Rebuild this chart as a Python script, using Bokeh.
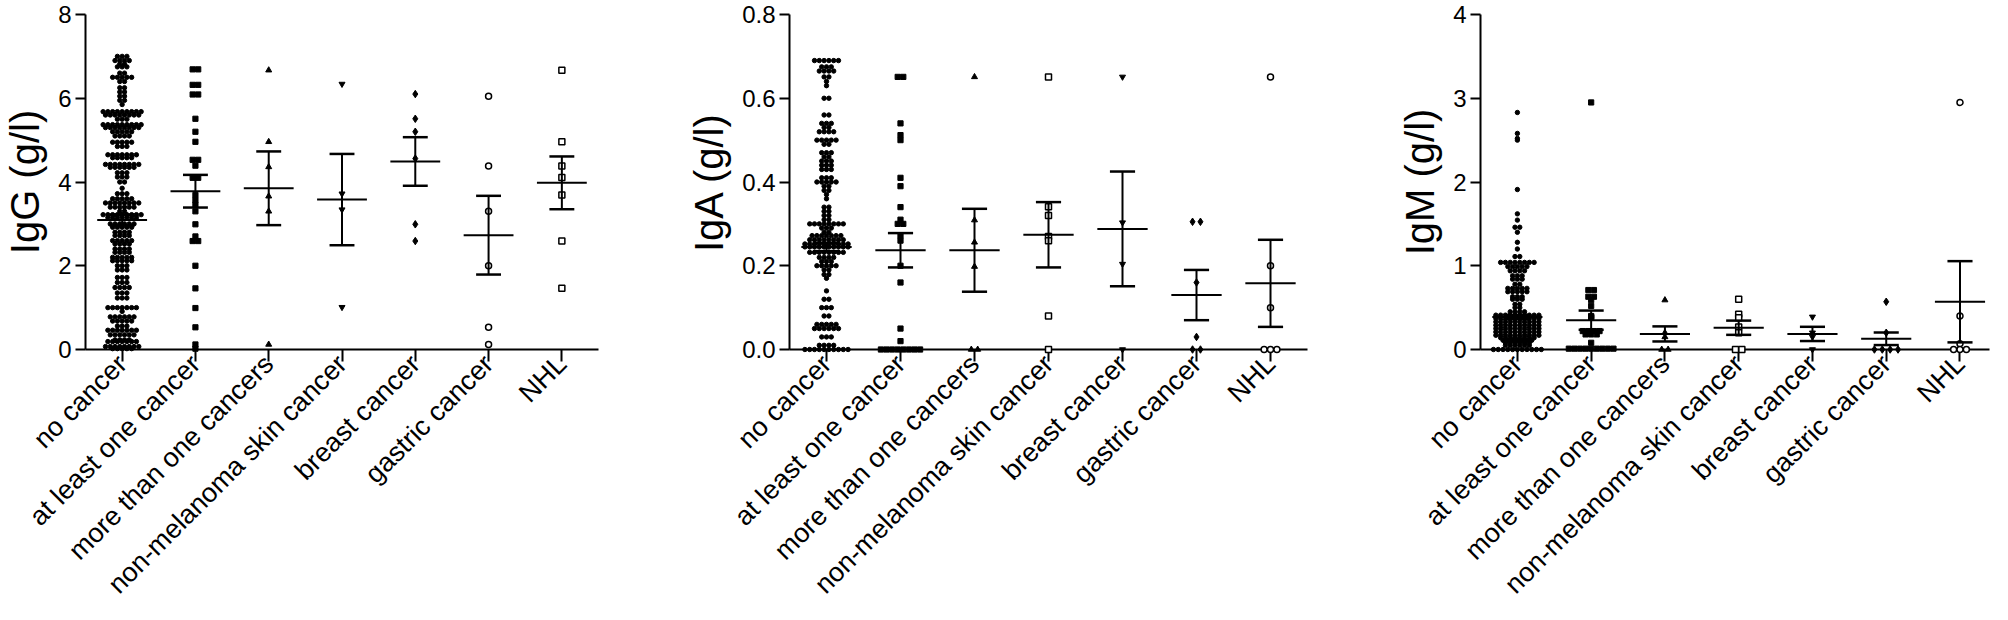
import math
from collections import defaultdict
from bokeh.plotting import figure
from bokeh.layouts import row
from bokeh.models import FixedTicker, Range1d, NumeralTickFormatter
from bokeh.embed import file_html
from bokeh.resources import INLINE

CATEGORIES = ["no cancer", "at least one cancer", "more than one cancers",
              "non-melanoma skin cancer", "breast cancer", "gastric cancer", "NHL"]

# ---------------- IgG (g/l) ----------------
IGG_NO_CANCER = [
    7.0, 7.0, 7.0, 6.9, 6.9, 6.9, 6.9, 6.82, 6.82, 6.75, 6.75, 6.75, 6.6, 6.6,
    6.5, 6.5, 6.5, 6.5, 6.5, 6.4, 6.4, 6.25, 6.25, 6.15, 6.15, 6.05, 6.05, 5.95, 5.95, 5.85,
    5.68, 5.68, 5.68, 5.68, 5.68, 5.68, 5.68, 5.68, 5.68,
    5.6, 5.6, 5.6, 5.6, 5.6, 5.6, 5.6, 5.6, 5.5, 5.5, 5.5,
    5.37, 5.37, 5.37, 5.37, 5.37, 5.37, 5.37, 5.37, 5.37,
    5.3, 5.3, 5.3, 5.3, 5.3, 5.3, 5.3, 5.3, 5.2, 5.2, 5.2, 5.2, 5.2, 5.1, 5.1, 5.1, 5.1,
    4.95, 4.95, 4.95, 4.95, 4.95, 4.85, 4.85, 4.85,
    4.65, 4.65, 4.65, 4.65, 4.65, 4.65, 4.65, 4.58, 4.58, 4.58, 4.58, 4.58,
    4.42, 4.42, 4.42, 4.42, 4.42, 4.42, 4.42, 4.42, 4.35, 4.35, 4.35, 4.35, 4.35, 4.35,
    4.22, 4.22, 4.22, 4.12, 4.12, 4.12, 4.0, 4.0, 3.85, 3.72, 3.72, 3.72,
    3.6, 3.6, 3.6, 3.6, 3.6, 3.5, 3.5, 3.5, 3.5, 3.5, 3.5, 3.5, 3.5,
    3.4, 3.4, 3.4, 3.4, 3.4, 3.4, 3.3, 3.3,
    3.22, 3.22, 3.22, 3.22, 3.22, 3.22, 3.22, 3.22, 3.22,
    3.15, 3.15, 3.15, 3.15, 3.15, 3.15, 3.15, 3.0, 3.0, 3.0, 3.0, 3.0, 3.0,
    2.92, 2.92, 2.92, 2.92, 2.92, 2.8, 2.8, 2.8, 2.8, 2.72, 2.72, 2.72, 2.72,
    2.6, 2.6, 2.6, 2.6, 2.6, 2.52, 2.52, 2.52, 2.52, 2.4, 2.4, 2.4, 2.4,
    2.32, 2.32, 2.32, 2.32, 2.2, 2.2, 2.2, 2.2, 2.2, 2.12, 2.12, 2.12, 2.12, 2.12,
    2.0, 2.0, 2.0, 1.9, 1.9, 1.9, 1.72, 1.72, 1.72, 1.6, 1.6, 1.6,
    1.48, 1.48, 1.48, 1.48, 1.35, 1.35, 1.35, 1.23, 1.23, 1.23,
    1.0, 1.0, 1.0, 1.0, 1.0, 1.0, 1.0, 0.91, 0.78, 0.78, 0.78, 0.78, 0.78, 0.78,
    0.68, 0.68, 0.68, 0.68, 0.68, 0.56, 0.56, 0.56,
    0.46, 0.46, 0.46, 0.46, 0.46, 0.46, 0.46, 0.35, 0.35, 0.35, 0.35, 0.35, 0.35,
    0.23, 0.23, 0.23, 0.23, 0.19, 0.19, 0.19, 0.19, 0.19, 0.19, 0.19,
    0.07, 0.07, 0.07, 0.07, 0.07, 0.07, 0.07, 0.07, 0.02, 0.02, 0.02, 0.02, 0.02,
]
IGG_AT_LEAST_ONE = [6.69, 6.69, 6.32, 6.32, 6.09, 6.09, 5.51, 5.2, 4.96, 4.53, 4.53, 4.39,
                    4.1, 4.1, 3.69, 3.57, 3.46, 3.3, 2.99, 2.70, 2.59, 2.59, 2.0, 1.46,
                    0.99, 0.53, 0.12, 0.02]
IGG_MORE_THAN_ONE = [6.67, 4.96, 4.36, 3.66, 3.3, 0.12]
IGG_NMSC = [6.34, 3.72, 3.34, 1.01]
IGG_BREAST = [6.1, 5.51, 5.2, 4.56, 2.99, 2.59]
IGG_GASTRIC = [6.05, 4.38, 3.3, 2.0, 0.53, 0.12]
IGG_NHL = [6.67, 4.96, 4.38, 4.11, 3.69, 2.59, 1.46]
IGG_MEAN = [3.09, 3.78, 3.85, 3.58, 4.49, 2.73, 3.98]
IGG_SEM = [0.13, 0.39, 0.88, 1.09, 0.58, 0.94, 0.63]
IGG_TICKS = [0, 2, 4, 6, 8]

# ---------------- IgA (g/l) ----------------
IGA_NO_CANCER = [
    0.69, 0.69, 0.69, 0.69, 0.69, 0.69, 0.675, 0.675, 0.675, 0.665, 0.665, 0.665, 0.665,
    0.651, 0.651, 0.64, 0.63, 0.60, 0.60, 0.56, 0.56, 0.54, 0.54, 0.54, 0.53, 0.53,
    0.52, 0.52, 0.52, 0.52, 0.50, 0.50, 0.50, 0.50, 0.50, 0.49, 0.49,
    0.47, 0.47, 0.47, 0.46, 0.46, 0.45, 0.45, 0.45, 0.44, 0.44, 0.44, 0.43, 0.43, 0.43,
    0.41, 0.41, 0.41, 0.40, 0.40, 0.40, 0.40, 0.40, 0.39, 0.39, 0.38, 0.38, 0.37, 0.36,
    0.34, 0.34, 0.33, 0.33, 0.32, 0.32, 0.31, 0.31,
    0.30, 0.30, 0.30, 0.30, 0.30, 0.30, 0.30, 0.30, 0.29, 0.29, 0.29, 0.28, 0.28,
    0.272, 0.272, 0.272, 0.272, 0.272, 0.272, 0.272,
    0.262, 0.262, 0.262, 0.262, 0.262, 0.262, 0.262, 0.262,
    0.252, 0.252, 0.252, 0.252, 0.252, 0.252, 0.252, 0.252, 0.252, 0.252,
    0.245, 0.245, 0.245, 0.245, 0.245, 0.245, 0.245, 0.245, 0.245, 0.245,
    0.232, 0.232, 0.232, 0.232, 0.232, 0.232, 0.232, 0.232,
    0.22, 0.22, 0.22, 0.22, 0.21, 0.21, 0.21, 0.20, 0.20, 0.20, 0.20, 0.20,
    0.19, 0.19, 0.179, 0.179, 0.17, 0.14, 0.12, 0.12, 0.10, 0.10, 0.10, 0.08, 0.08,
    0.06, 0.06, 0.06, 0.06, 0.06, 0.05, 0.05, 0.05, 0.05, 0.05, 0.05,
    0.03, 0.03, 0.03, 0.01, 0.01, 0.01, 0.01,
    0.0, 0.0, 0.0, 0.0, 0.0, 0.0, 0.0, 0.0, 0.0, 0.0,
]
IGA_AT_LEAST_ONE = [0.651, 0.651, 0.54, 0.512, 0.50, 0.41, 0.39, 0.34, 0.31, 0.30, 0.30,
                    0.272, 0.26, 0.2, 0.16, 0.05, 0.02,
                    0.0, 0.0, 0.0, 0.0, 0.0, 0.0, 0.0, 0.0]
IGA_MORE_THAN_ONE = [0.651, 0.309, 0.256, 0.198, 0.0, 0.0]
IGA_NMSC = [0.651, 0.341, 0.32, 0.27, 0.26, 0.08, 0.0]
IGA_BREAST = [0.651, 0.303, 0.204, 0.0]
IGA_GASTRIC = [0.305, 0.305, 0.16, 0.03, 0.0, 0.0]
IGA_NHL = [0.651, 0.2, 0.1, 0.0, 0.0, 0.0]
IGA_MEAN = [0.245, 0.237, 0.237, 0.274, 0.288, 0.13, 0.158]
IGA_SEM = [0.01, 0.041, 0.099, 0.078, 0.137, 0.06, 0.104]
IGA_TICKS = [0.0, 0.2, 0.4, 0.6, 0.8]

# ---------------- IgM (g/l) ----------------
IGM_NO_CANCER = [
    2.83, 2.58, 2.52, 2.50, 1.91, 1.62, 1.545, 1.46, 1.46, 1.40, 1.28, 1.20, 1.11, 1.11,
    1.04, 1.04, 1.04, 1.04, 1.04, 1.04, 1.04, 1.04, 0.99, 0.99, 0.99, 0.99, 0.99,
    0.94, 0.94, 0.94, 0.94, 0.88, 0.88, 0.88, 0.84, 0.84, 0.84, 0.78, 0.78,
    0.73, 0.73, 0.73, 0.73, 0.73, 0.69, 0.69, 0.69, 0.69, 0.69, 0.63, 0.63, 0.63,
    0.6, 0.6, 0.6, 0.54, 0.54, 0.5, 0.5, 0.45, 0.45, 0.45, 0.45,
    0.41, 0.41, 0.41, 0.41, 0.41, 0.41, 0.41, 0.41, 0.41, 0.41,
    0.37, 0.37, 0.37, 0.37, 0.37, 0.37, 0.37, 0.37, 0.37, 0.37,
    0.33, 0.33, 0.33, 0.33, 0.33, 0.33, 0.33, 0.33, 0.33, 0.33,
    0.29, 0.29, 0.29, 0.29, 0.29, 0.29, 0.29, 0.29, 0.29, 0.29,
    0.25, 0.25, 0.25, 0.25, 0.25, 0.25, 0.25, 0.25, 0.25, 0.25,
    0.21, 0.21, 0.21, 0.21, 0.21, 0.21, 0.21, 0.21, 0.21, 0.21,
    0.17, 0.17, 0.17, 0.17, 0.17, 0.17, 0.17, 0.17, 0.17, 0.17,
    0.14, 0.14, 0.14, 0.14, 0.14, 0.14, 0.14, 0.14,
    0.11, 0.11, 0.11, 0.11, 0.11, 0.11, 0.11, 0.08, 0.08, 0.08, 0.08, 0.08, 0.08,
    0.05, 0.05, 0.05, 0.05, 0.05, 0.05,
    0.0, 0.0, 0.0, 0.0, 0.0, 0.0, 0.0, 0.0, 0.0, 0.0, 0.0,
]
IGM_AT_LEAST_ONE = [2.95, 0.71, 0.71, 0.63, 0.63, 0.59, 0.52, 0.40, 0.39, 0.38,
                    0.22, 0.22, 0.22, 0.22, 0.18, 0.18, 0.18, 0.08,
                    0.01, 0.01, 0.01, 0.01, 0.01, 0.01, 0.01, 0.01, 0.01]
IGM_MORE_THAN_ONE = [0.59, 0.2, 0.15, 0.0, 0.0]
IGM_NMSC = [0.60, 0.42, 0.38, 0.27, 0.2, 0.0, 0.0]
IGM_BREAST = [0.39, 0.2, 0.15, 0.0]
IGM_GASTRIC = [0.57, 0.2, 0.0, 0.0, 0.0, 0.0]
IGM_NHL = [2.95, 0.4, 0.07, 0.0, 0.0, 0.0]
IGM_MEAN = [0.387, 0.35, 0.186, 0.26, 0.186, 0.128, 0.57]
IGM_SEM = [0.025, 0.115, 0.09, 0.085, 0.085, 0.075, 0.485]
IGM_TICKS = [0, 1, 2, 3, 4]

FONT = "Liberation Sans"

# marker styles: (marker, size, filled)
STYLE_1 = [("circle", 4.4, True), ("square", 5.2, True), ("triangle", 6, True),
           ("inverted_triangle", 6, True), ("diamond", 7.5, True),
           ("circle", 6, False), ("square", 6, False)]
STYLE_2 = [("circle", 4.4, True), ("square", 5.2, True), ("triangle", 6, True),
           ("square", 6, False), ("inverted_triangle", 6, True),
           ("diamond", 7.5, True), ("circle", 6, False)]

PX_PER_CAT = 74.0


def row_offsets(values, spacing):
    rows = defaultdict(list)
    for i, v in enumerate(values):
        rows[v].append(i)
    offs = [0.0] * len(values)
    for v, idxs in rows.items():
        k = len(idxs)
        for j, i in enumerate(idxs):
            offs[i] = (j - (k - 1) / 2.0) * spacing
    return offs


def make_panel(ylabel, ymax, ticks, fmt, groups, styles, means, sems,
               width, left, right, xend):
    p = figure(width=width, height=612, x_range=Range1d(0.5, xend),
               y_range=Range1d(0, ymax), output_backend="svg",
               toolbar_location=None, min_border_left=left, min_border_right=right,
               min_border_top=14, min_border_bottom=263)
    p.outline_line_color = None
    p.xgrid.visible = False
    p.ygrid.visible = False
    p.background_fill_color = "white"

    for ax in (p.xaxis[0], p.yaxis[0]):
        ax.axis_line_width = 2
        ax.axis_line_color = "black"
        ax.major_tick_line_width = 2
        ax.major_tick_line_color = "black"
        ax.major_tick_in = 0
        ax.minor_tick_line_color = None
        ax.major_label_text_font = FONT
        ax.major_label_text_color = "black"
    p.xaxis.major_tick_out = 12
    p.yaxis.major_tick_out = 10

    n = len(CATEGORIES)
    xc = list(range(1, n + 1))
    p.xaxis.ticker = FixedTicker(ticks=xc)
    p.xaxis.major_label_overrides = {i + 1: c for i, c in enumerate(CATEGORIES)}
    p.xaxis.major_label_orientation = math.pi / 4
    p.xaxis.major_label_text_font_size = "27px"
    p.xaxis.major_label_standoff = -2

    p.yaxis.ticker = FixedTicker(ticks=ticks)
    p.yaxis.formatter = NumeralTickFormatter(format=fmt)
    p.yaxis.major_label_text_font_size = "24px"
    p.yaxis.major_label_standoff = 4
    p.yaxis.axis_label = ylabel
    p.yaxis.axis_label_text_font = FONT
    p.yaxis.axis_label_text_font_size = "40px"
    p.yaxis.axis_label_text_font_style = "normal"
    p.yaxis.axis_label_text_color = "black"
    p.yaxis.axis_label_standoff = 8

    for gi, vals in enumerate(groups):
        marker, size, filled = styles[gi]
        spacing = (size + 0.4) / PX_PER_CAT
        offs = row_offsets(vals, spacing)
        xs = [gi + 1 + o for o in offs]
        p.scatter(xs, vals, marker=marker, size=size,
                  fill_color="black" if filled else "white",
                  line_color="black", line_width=1.0 if filled else 1.5,
                  level="overlay")

    lo = [m - s for m, s in zip(means, sems)]
    hi = [m + s for m, s in zip(means, sems)]
    p.segment(x0=[x - 0.34 for x in xc], y0=means, x1=[x + 0.34 for x in xc], y1=means,
              line_width=2, line_color="black", level="overlay")
    p.segment(x0=xc, y0=lo, x1=xc, y1=hi, line_width=2, line_color="black", level="overlay")
    p.segment(x0=[x - 0.17 for x in xc], y0=hi, x1=[x + 0.17 for x in xc], y1=hi,
              line_width=2.5, line_color="black", level="overlay")
    p.segment(x0=[x - 0.17 for x in xc], y0=lo, x1=[x + 0.17 for x in xc], y1=lo,
              line_width=2.5, line_color="black", level="overlay")
    return p


p1 = make_panel("IgG (g/l)", 8, IGG_TICKS, "0",
                [IGG_NO_CANCER, IGG_AT_LEAST_ONE, IGG_MORE_THAN_ONE, IGG_NMSC,
                 IGG_BREAST, IGG_GASTRIC, IGG_NHL],
                STYLE_1, IGG_MEAN, IGG_SEM, width=672, left=80, right=74, xend=7.5)
p2 = make_panel("IgA (g/l)", 0.8, IGA_TICKS, "0.0",
                [IGA_NO_CANCER, IGA_AT_LEAST_ONE, IGA_MORE_THAN_ONE, IGA_NMSC,
                 IGA_BREAST, IGA_GASTRIC, IGA_NHL],
                STYLE_2, IGA_MEAN, IGA_SEM, width=715, left=117, right=80, xend=7.5)
p3 = make_panel("IgM (g/l)", 4, IGM_TICKS, "0",
                [IGM_NO_CANCER, IGM_AT_LEAST_ONE, IGM_MORE_THAN_ONE, IGM_NMSC,
                 IGM_BREAST, IGM_GASTRIC, IGM_NHL],
                STYLE_2, IGM_MEAN, IGM_SEM, width=605, left=93, right=3, xend=7.4)

layout = row(p1, p2, p3)
open("out.html", "w").write(file_html(layout, INLINE))
